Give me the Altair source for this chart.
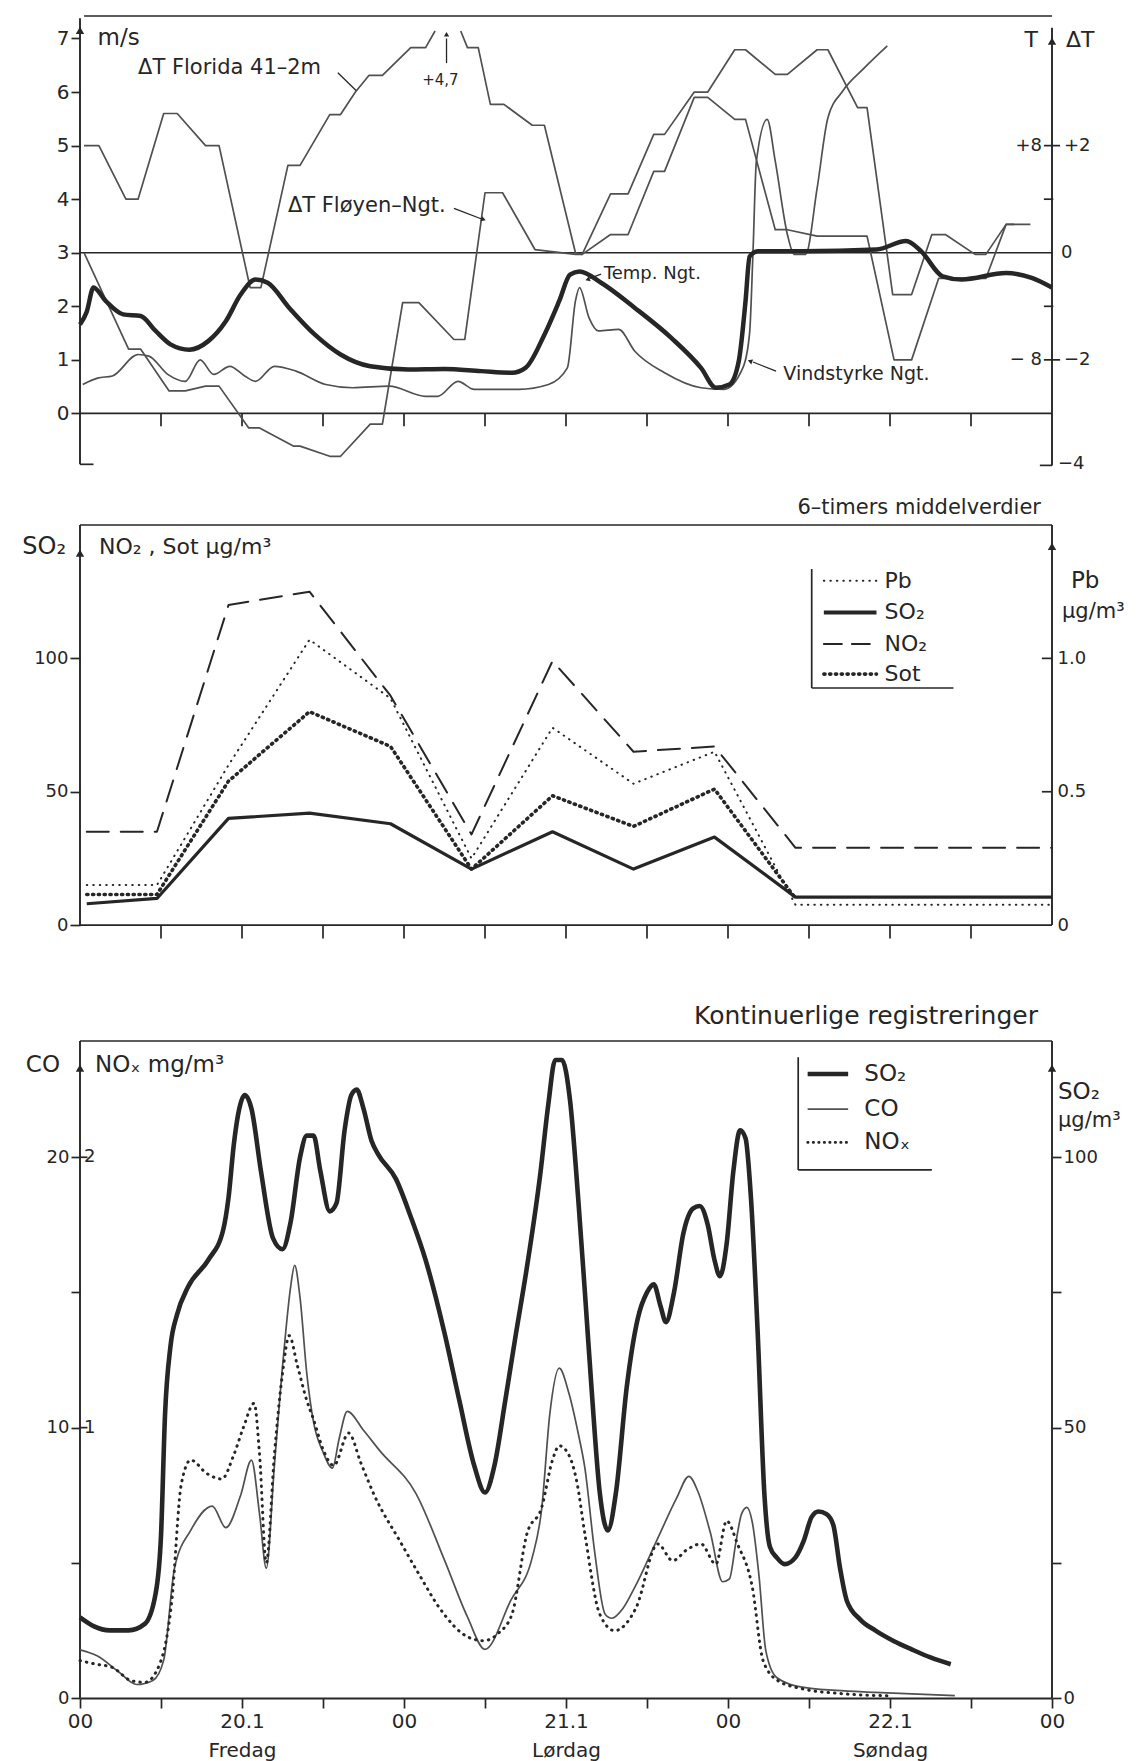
import altair as alt
import pandas as pd

# ---------------- data (hours from Thursday 00, 19.1) ----------------
# Panel 1: Delta T Florida 41-2m (two pieces, the peak +4.7 runs off the top)
FLORIDA_H1 = [0.3, 1.4, 3.4, 4.3, 6.2, 7.2, 9.3, 10.3, 12.6, 13.4, 15.4, 16.3, 18.5, 19.3, 20.4, 21.4, 22.4, 24.5, 25.6, 26.3]
FLORIDA_DT1 = [2.0, 2.0, 1.0, 1.0, 2.6, 2.6, 2.0, 2.0, -0.65, -0.65, 1.63, 1.63, 2.58, 2.58, 3.0, 3.31, 3.31, 3.83, 3.83, 4.14]
FLORIDA_H2 = [28.2, 28.7, 29.5, 30.4, 31.4, 33.5, 34.4, 36.7, 37.2, 39.3, 40.6, 42.5, 43.3, 45.5, 46.5, 48.5, 49.3, 51.5, 52.4, 54.6, 55.4, 57.6, 58.3, 60.2, 61.6, 63.1, 64.1, 66.3, 67.1, 68.6, 70.4]
FLORIDA_DT2 = [4.14, 3.83, 3.83, 2.77, 2.77, 2.38, 2.38, 0.0, -0.03, 1.1, 1.1, 2.21, 2.21, 3.0, 3.0, 3.79, 3.79, 3.33, 3.33, 3.79, 3.79, 2.71, 2.71, -0.78, -0.78, 0.34, 0.34, -0.03, -0.03, 0.53, 0.53]
# Delta T Floyen - Ngt.
FLOYEN_H = [0.3, 3.6, 4.5, 6.6, 7.8, 9.3, 10.3, 12.5, 13.3, 15.8, 16.3, 18.5, 19.3, 21.5, 22.4, 23.9, 25.1, 27.7, 28.5, 30.0, 31.3, 33.7, 36.7, 37.2, 39.3, 40.6, 42.5, 43.3, 45.5, 46.5, 48.5, 49.3, 51.5, 52.4, 54.6, 58.3, 60.3, 61.6, 63.6, 67.1, 68.6, 69.2]
FLOYEN_DT = [0.0, -1.8, -1.8, -2.58, -2.58, -2.49, -2.49, -3.27, -3.27, -3.61, -3.61, -3.8, -3.8, -3.2, -3.2, -0.93, -0.93, -1.62, -1.62, 1.12, 1.12, 0.06, -0.03, -0.03, 0.34, 0.34, 1.52, 1.52, 2.9, 2.9, 2.49, 2.49, 0.43, 0.43, 0.31, 0.31, -2.0, -2.0, -0.48, -0.48, 0.53, 0.53]
# Temp. Ngt. (deg C)
TEMP_H = [0.0, 0.5, 1.0, 1.9, 3.2, 4.5, 5.6, 6.7, 8.1, 9.5, 10.8, 11.9, 13.0, 13.9, 15.5, 17.4, 19.3, 21.5, 24.3, 27.0, 29.7, 32.0, 33.0, 34.4, 35.5, 36.3, 37.0, 38.6, 41.1, 43.8, 46.0, 47.1, 48.1, 48.8, 49.3, 49.6, 50.2, 53.5, 59.0, 61.2, 62.3, 63.9, 65.3, 68.6, 70.5, 72.0]
TEMP_T = [-5.36, -4.4, -2.6, -3.6, -4.6, -4.72, -5.84, -6.84, -7.24, -6.6, -5.12, -3.12, -2.0, -2.24, -4.12, -6.12, -7.6, -8.48, -8.72, -8.68, -8.84, -8.96, -8.6, -6.12, -3.6, -1.64, -1.4, -2.24, -4.12, -6.36, -8.6, -10.08, -9.84, -8.08, -3.6, -0.28, 0.12, 0.12, 0.24, 0.88, 0.12, -1.76, -2.0, -1.52, -1.88, -2.6]
# Vindstyrke Ngt. (m/s)
WIND_H = [0.2, 1.3, 2.4, 4.3, 5.1, 6.5, 7.8, 8.9, 9.9, 11.1, 12.2, 13.0, 14.4, 16.0, 18.2, 20.2, 22.9, 25.6, 26.5, 28.0, 29.2, 32.5, 34.7, 36.1, 36.7, 37.0, 37.7, 38.4, 39.9, 41.1, 43.3, 46.0, 47.7, 49.1, 49.6, 49.85, 50.1, 50.9, 51.5, 52.4, 52.9, 53.75, 54.6, 55.4, 56.5, 58.1, 59.8]
WIND_MS = [0.54, 0.66, 0.7, 1.1, 1.07, 0.73, 0.6, 1.0, 0.73, 0.88, 0.7, 0.6, 0.88, 0.79, 0.54, 0.48, 0.51, 0.32, 0.32, 0.6, 0.45, 0.45, 0.54, 0.85, 2.1, 2.35, 1.79, 1.54, 1.57, 1.16, 0.76, 0.48, 0.45, 0.85, 1.5, 3.0, 4.7, 5.49, 4.71, 3.34, 2.97, 2.97, 4.2, 5.52, 6.02, 6.45, 6.86]

# Panel 2: 6-hour mean values
H6 = [0.5, 5.7, 11.0, 17.0, 23.0, 29.0, 35.0, 41.0, 47.0, 53.0, 72.0]
NO2_6 = [35, 35, 120, 125, 86, 34, 99, 65, 67, 29, 29]
SO2_6 = [8, 10, 40, 42, 38, 21, 35, 21, 33, 10.5, 10.5]
PB_6 = [0.15, 0.15, 0.60, 1.07, 0.85, 0.25, 0.74, 0.53, 0.65, 0.076, 0.076]
SOT_H = [0.5, 5.7, 11.0, 17.0, 23.0, 29.0, 35.0, 41.0, 47.0, 53.0]
SOT_6 = [11.5, 11.5, 54, 80, 67, 21, 48.5, 37, 51, 10]

# Panel 3: continuous records
SO2_H = [0, 1.0, 2.2, 3.6, 4.8, 5.6, 6.0, 6.3, 6.7, 7.2, 8.0, 9.5, 10.6, 11.0, 11.4, 11.8, 12.2, 12.7, 13.4, 14.3, 15.0, 15.6, 16.3, 16.8, 17.3, 17.8, 18.5, 19.0, 19.6, 20.1, 20.5, 21.0, 21.6, 22.1, 23.4, 24.5, 25.6, 27.0, 28.1, 29.2, 30.0, 30.7, 31.5, 32.3, 33.0, 34.1, 34.7, 35.2, 35.7, 36.3, 36.9, 37.4, 37.9, 38.5, 39.1, 39.7, 40.5, 41.3, 42.0, 42.5, 43.0, 43.4, 44.0, 44.7, 45.4, 45.9, 46.5, 47.0, 47.4, 47.9, 48.4, 48.9, 49.3, 49.7, 50.2, 50.7, 51.1, 51.6, 52.2, 53.0, 53.6, 54.2, 54.7, 55.3, 55.8, 56.3, 56.8, 57.8, 58.9, 60.3, 61.6, 63.0, 64.5]
SO2_UG = [14.9, 13.3, 12.5, 12.5, 13.7, 19.3, 30, 52.5, 65, 71, 76, 81, 86.5, 92.5, 102.5, 109, 111.5, 109, 97.5, 85, 83, 88, 100, 104, 104, 97.5, 90, 91.5, 105, 111.5, 112.5, 109, 103, 100.5, 96, 89, 81, 67.5, 55, 43, 38, 43, 55, 67.5, 78, 97, 110, 118, 118, 110.5, 92.5, 75, 57, 38, 31, 38, 57.5, 70, 75, 76.5, 72.5, 69.5, 75, 86, 90.5, 91, 87.5, 81, 78, 84, 97.5, 105, 103.5, 92.5, 67.5, 37.5, 28, 26, 24.75, 26, 29, 33.5, 34.5, 34, 32, 24, 18, 14.5, 12.5, 10.5, 9, 7.5, 6.25]
CO_H = [0, 1.3, 2.9, 4.2, 5.4, 6.2, 7.0, 8.2, 9.8, 10.8, 11.9, 12.7, 13.3, 13.8, 14.4, 15.1, 15.6, 15.9, 16.3, 16.8, 17.3, 18.0, 18.7, 19.2, 19.8, 21.0, 22.2, 24.9, 27.0, 28.7, 30.0, 31.9, 33.5, 34.2, 34.8, 35.5, 36.2, 36.9, 37.4, 38.1, 38.9, 39.4, 40.2, 41.1, 42.7, 44.2, 45.1, 45.8, 46.7, 47.6, 48.1, 48.6, 49.0, 49.4, 49.8, 50.3, 50.8, 51.6, 53.5, 56.0, 58.9, 64.8]
CO_MG = [1.78, 1.55, 0.95, 0.5, 0.65, 1.4, 4.8, 6.2, 7.1, 6.3, 7.5, 8.8, 6.8, 4.8, 8.6, 12.8, 15.2, 16.0, 14.8, 12.0, 10.2, 9.1, 8.5, 9.6, 10.6, 9.9, 9.15, 7.55, 5.1, 3.0, 1.8, 3.6, 5.2, 7.0, 10.5, 12.2, 11.3, 9.8, 8.5, 5.5, 3.1, 2.95, 3.3, 4.1, 5.8, 7.4, 8.2, 7.6, 6.1, 4.3, 4.4, 5.8, 6.8, 7.05, 6.5, 4.5, 1.75, 0.76, 0.4, 0.28, 0.21, 0.09]
NOX_H = [0, 1.1, 2.4, 3.8, 4.8, 5.9, 6.8, 7.5, 8.2, 9.4, 10.5, 11.4, 12.1, 12.9, 13.3, 13.8, 14.4, 15.0, 15.5, 16.1, 16.8, 17.3, 18.0, 18.8, 19.9, 20.8, 21.8, 23.7, 25.2, 26.6, 28.8, 29.9, 31.0, 32.0, 33.1, 34.2, 35.0, 35.5, 36.2, 36.8, 37.4, 38.5, 39.6, 41.2, 42.8, 43.9, 45.0, 46.0, 47.1, 47.9, 48.7, 49.8, 50.6, 51.7, 53.6, 56.2, 60.0]
NOX_MG = [0.138, 0.126, 0.113, 0.064, 0.058, 0.125, 0.36, 0.79, 0.88, 0.83, 0.81, 0.9, 1.0, 1.09, 0.9, 0.5, 0.9, 1.2, 1.34, 1.23, 1.1, 1.03, 0.92, 0.86, 0.98, 0.87, 0.75, 0.58, 0.45, 0.335, 0.224, 0.212, 0.24, 0.31, 0.606, 0.705, 0.88, 0.933, 0.9, 0.8, 0.606, 0.31, 0.249, 0.335, 0.57, 0.508, 0.55, 0.57, 0.495, 0.655, 0.57, 0.41, 0.138, 0.064, 0.033, 0.017, 0.008]

X_TICKS = list(range(0, 73, 6))
INNER_TICKS = list(range(6, 67, 6))

# ---------------- style ----------------
FONT = "DejaVu Sans"
INK = "#262626"
GRAY = "#505050"
W = 972
H1, H2, H3 = 451, 458, 657

XS = alt.Scale(domain=[0, 72], nice=False, zero=False)
S1 = alt.Scale(domain=[-1.0, 7.42], nice=False, zero=False)
S2 = alt.Scale(domain=[-21.7, 150], nice=False, zero=False)
S3 = alt.Scale(domain=[0, 24.3], nice=False, zero=False)

XAX = {"axis": None}  # x axis used by every layer of the panel being built


def X(f):
    return alt.X(f"{f}:Q", scale=XS, axis=XAX["axis"])


def Y(f, sc, axis=None):
    return alt.Y(f"{f}:Q", scale=sc, axis=axis)


def series(df, expr, sc, color, width, dash=None, interp="linear"):
    kw = dict(color=color, strokeWidth=width, interpolate=interp, strokeJoin="round")
    if dash is not None:
        kw["strokeDash"] = dash
        kw["strokeCap"] = "round"
    return alt.Chart(df).transform_calculate(yv=expr).mark_line(**kw).encode(x=X("h"), y=Y("yv", sc))


def segs(rows, sc, color=INK, width=1.7, dash=None):
    df = pd.DataFrame(rows, columns=["x", "y", "x2", "y2"])
    kw = dict(color=color, strokeWidth=width)
    if dash is not None:
        kw["strokeDash"] = dash
        kw["strokeCap"] = "round"
    return alt.Chart(df).mark_rule(**kw).encode(x=X("x"), y=Y("y", sc), x2="x2:Q", y2="y2:Q")


def texts(rows, sc, size, align="left", baseline="middle", dx=0, dy=0, color=INK, font=FONT):
    df = pd.DataFrame(rows, columns=["x", "y", "t"])
    return alt.Chart(df).mark_text(align=align, baseline=baseline, dx=dx, dy=dy, fontSize=size,
                                   font=font, color=color).encode(x=X("x"), y=Y("y", sc), text="t:N")


def heads(rows, sc, size=70):
    df = pd.DataFrame(rows, columns=["x", "y", "a"])
    return alt.Chart(df).mark_point(shape="triangle-up", filled=True, color=INK, size=size, opacity=1,
                                    strokeWidth=0).encode(x=X("x"), y=Y("y", sc), angle=alt.Angle("a:Q", scale=None))


def axis_line(sc, xpos, y0, y1, yaxis=None):
    df = pd.DataFrame({"x": [xpos], "y": [y0], "y2": [y1]})
    return alt.Chart(df).mark_rule(color=INK, strokeWidth=1.9).encode(
        x=X("x"), y=alt.Y("y:Q", scale=sc, axis=yaxis), y2="y2:Q")


def ax(orient, values, size, **kw):
    base = dict(orient=orient, values=values, domain=False, grid=False, title=None, labelFont=FONT,
                labelFontSize=size, labelColor=INK, tickColor=INK, tickWidth=1.7, labelOverlap=False,
                labelFlush=False, labelBound=False)
    base.update(kw)
    return alt.Axis(**base)


# ---------------- panel 1 ----------------
fl1 = pd.DataFrame({"h": FLORIDA_H1, "v": FLORIDA_DT1})
fl2 = pd.DataFrame({"h": FLORIDA_H2, "v": FLORIDA_DT2})
fly = pd.DataFrame({"h": FLOYEN_H, "v": FLOYEN_DT})
tmp = pd.DataFrame({"h": TEMP_H, "v": TEMP_T})
wnd = pd.DataFrame({"h": WIND_H, "v": WIND_MS})

p1 = alt.layer(
    # layout anchor (white) so that the plot starts at the same left offset as the original
    segs([(-5.874, 3.0, -5.874, 3.02)], S1, color="white", width=0.5),
    axis_line(S1, 0, -0.95, 7.38, yaxis=ax("left", list(range(0, 8)), 20, tickSize=9, labelPadding=2, format="d")),
    axis_line(S1, 72, -0.97, 7.2),
    segs([(0.3, 7.42, 72, 7.42), (0, 3, 72, 3), (0, 0, 72, 0), (0, -0.95, 1.0, -0.95), (71.1, -0.97, 72, -0.97),
          (71.4, 5, 72.6, 5), (71.4, 1, 72.6, 1), (71.4, 4, 72.1, 4), (71.4, 2, 72.1, 2)]
         + [(h, 0, h, -0.24) for h in INNER_TICKS], S1),
    series(fl1, "datum.v + 3", S1, GRAY, 1.7),
    series(fl2, "datum.v + 3", S1, GRAY, 1.7),
    series(fly, "datum.v + 3", S1, GRAY, 1.7),
    series(wnd, "datum.v", S1, GRAY, 1.7, interp="monotone"),
    series(tmp, "datum.v / 4 + 3", S1, INK, 4.5, interp="monotone"),
    # annotation leaders
    segs([(19.1, 6.36, 20.45, 6.03), (27.7, 3.83, 29.75, 3.63), (38.6, 2.6, 37.75, 2.52),
          (51.56, 0.79, 49.85, 0.96), (27.15, 6.54, 27.15, 7.0)], S1, color=INK, width=1.3),
    heads([(29.89, 3.62, 111), (37.6, 2.5, 250), (49.63, 0.976, 291), (27.15, 7.08, 0)], S1, size=28),
    heads([(0, 7.15, 0), (72, 6.95, 0)], S1, size=70),
    texts([(1.3, 7.0, "m/s")], S1, 23),
    texts([(4.3, 6.45, "ΔT Florida 41–2m"), (15.4, 3.87, "ΔT Fløyen–Ngt.")], S1, 21),
    texts([(38.8, 2.6, "Temp. Ngt.")], S1, 18),
    texts([(52.1, 0.73, "Vindstyrke Ngt.")], S1, 19),
    texts([(26.7, 6.23, "+4,7")], S1, 15, align="center"),
    texts([(72, 6.98, "T")], S1, 22, align="right", dx=-14),
    texts([(72, 6.98, "ΔT")], S1, 22, align="left", dx=14),
    texts([(72, 5, "+8"), (72, 1, "− 8")], S1, 18, align="right", dx=-10),
    texts([(72, 5, "+2"), (72, 1, "−2")], S1, 18, align="left", dx=12),
    texts([(72, 3, "0")], S1, 18, align="left", dx=9),
    texts([(72, -0.95, "−4")], S1, 18, align="left", dx=6),
).resolve_scale(y="independent").properties(width=W, height=H1)

# ---------------- panel 2 ----------------
d6 = pd.DataFrame({"h": H6, "no2": NO2_6, "so2": SO2_6, "pb": PB_6})
dsot = pd.DataFrame({"h": SOT_H, "v": SOT_6})

leg2_rows = [(129.1, "Pb"), (117.2, "SO₂"), (105.4, "NO₂"), (94.1, "Sot")]
p2 = alt.layer(
    axis_line(S2, 0, 0, 150, yaxis=ax("left", [0, 50, 100], 18, tickSize=10, labelPadding=2, format="d")),
    axis_line(S2, 72, 0, 150, yaxis=ax("right", [0, 50, 100], 18, ticks=False, labelPadding=5,
                                       labelExpr="datum.value == 0 ? '0' : format(datum.value / 100, '.1f')")),
    segs([(0, 150, 72, 150), (0, 0, 72, 0), (71.25, 50, 72, 50), (71.25, 100, 72, 100)]
         + [(h, 0, h, -5.0) for h in INNER_TICKS], S2),
    series(d6.rename(columns={"no2": "v"}), "datum.v", S2, INK, 2.0, dash=[22, 12]),
    series(d6.rename(columns={"pb": "v"}), "datum.v * 100", S2, INK, 2.0, dash=[0.5, 6]),
    series(dsot, "datum.v", S2, INK, 3.6, dash=[1.2, 4.6]),
    series(d6.rename(columns={"so2": "v"}), "datum.v", S2, INK, 3.2),
    # legend
    segs([(54.2, 88.9, 54.2, 133.5), (54.2, 88.9, 64.7, 88.9)], S2, width=1.7),
    segs([(55.1, 129.1, 59.0, 129.1)], S2, width=2.0, dash=[0.5, 6]),
    segs([(55.1, 117.2, 59.0, 117.2)], S2, width=4.0),
    segs([(55.1, 105.4, 59.0, 105.4)], S2, width=2.0, dash=[18, 10]),
    segs([(55.1, 94.1, 59.0, 94.1)], S2, width=3.6, dash=[1.2, 4.6]),
    texts([(59.6, y, t) for y, t in leg2_rows], S2, 22),
    heads([(0, 139.5, 0), (72, 142.0, 0)], S2, size=70),
    texts([(0, 141.6, "SO₂")], S2, 24, align="right", dx=-14),
    texts([(0, 141.6, "NO₂ , Sot µg/m³")], S2, 22, align="left", dx=19),
    texts([(72, 129.0, "Pb")], S2, 23, align="left", dx=19),
    texts([(72, 117.5, "µg/m³")], S2, 21, align="left", dx=10),
    texts([(72, 154.2, "6–timers middelverdier")], S2, 21, align="right", baseline="alphabetic", dx=-11),
).resolve_scale(y="independent").properties(width=W, height=H2)

# ---------------- panel 3 ----------------
XAX["axis"] = alt.Axis(orient="bottom", values=X_TICKS, grid=False, title=None, domain=True, domainColor=INK,
                       domainWidth=1.9, ticks=True, tickSize=10, tickColor=INK, tickWidth=1.7, labelFont=FONT,
                       labelFontSize=20, labelColor=INK, labelPadding=3, labelLineHeight=29, labelOverlap=False,
                       labelFlush=False, labelBound=False,
                       labelExpr="datum.value == 12 ? ['20.1', 'Fredag'] : datum.value == 36 ? ['21.1', 'Lørdag'] : "
                                 "datum.value == 60 ? ['22.1', 'Søndag'] : (datum.value % 24 == 0 ? '00' : '')")

dso2 = pd.DataFrame({"h": SO2_H, "v": SO2_UG})
dco = pd.DataFrame({"h": CO_H, "v": CO_MG})
dnox = pd.DataFrame({"h": NOX_H, "v": NOX_MG})

leg3_rows = [(23.08, "SO₂"), (21.78, "CO"), (20.55, "NOₓ")]
p3 = alt.layer(
    axis_line(S3, 0, 0, 24.3,
              yaxis=ax("left", [0, 5, 10, 15, 20], 18, tickSize=9, labelPadding=2,
                       labelExpr="datum.value % 10 == 0 ? format(datum.value, 'd') : ''")),
    axis_line(S3, 72, 0, 24.3,
              yaxis=ax("right", [0, 5, 10, 15, 20], 18, tickSize=9, labelPadding=2,
                       labelExpr="datum.value % 10 == 0 ? format(datum.value * 5, 'd') : ''")),
    segs([(0, 24.3, 72, 24.3), (0, 10, 0.55, 10), (0, 20, 0.55, 20)], S3),
    series(dco, "datum.v", S3, GRAY, 1.7, interp="monotone"),
    series(dnox, "datum.v * 10", S3, INK, 3.0, dash=[0.5, 6], interp="monotone"),
    series(dso2, "datum.v / 5", S3, INK, 4.6, interp="monotone"),
    # legend
    segs([(53.2, 19.53, 53.2, 23.7), (53.2, 19.53, 63.1, 19.53)], S3, width=1.7),
    segs([(53.9, 23.08, 56.9, 23.08)], S3, width=4.6),
    segs([(53.9, 21.78, 56.9, 21.78)], S3, color=GRAY, width=1.8),
    segs([(53.9, 20.55, 56.9, 20.55)], S3, width=2.6, dash=[0.5, 5]),
    texts([(58.1, y, t) for y, t in leg3_rows], S3, 23),
    heads([(0, 23.3, 0), (72, 23.3, 0)], S3, size=70),
    texts([(0, 23.4, "CO")], S3, 23, align="right", dx=-20),
    texts([(0, 23.4, "NOₓ mg/m³")], S3, 23, align="left", dx=15),
    texts([(0, 20, "2"), (0, 10, "1")], S3, 18, align="left", dx=4),
    texts([(72, 22.4, "SO₂")], S3, 23, align="left", dx=6),
    texts([(72, 21.35, "µg/m³")], S3, 21, align="left", dx=6),
    texts([(72, 24.94, "Kontinuerlige registreringer")], S3, 25, align="right", baseline="alphabetic", dx=-14),
).resolve_scale(y="independent").properties(width=W, height=H3)

chart = alt.vconcat(p1, p2, p3, spacing=58, bounds="flush").properties(
    padding={"left": 0, "top": 15, "right": 2, "bottom": 2},
    background="white",
).configure_view(stroke=None)

chart.save("out.html", embed_options={"renderer": "svg", "actions": False})
